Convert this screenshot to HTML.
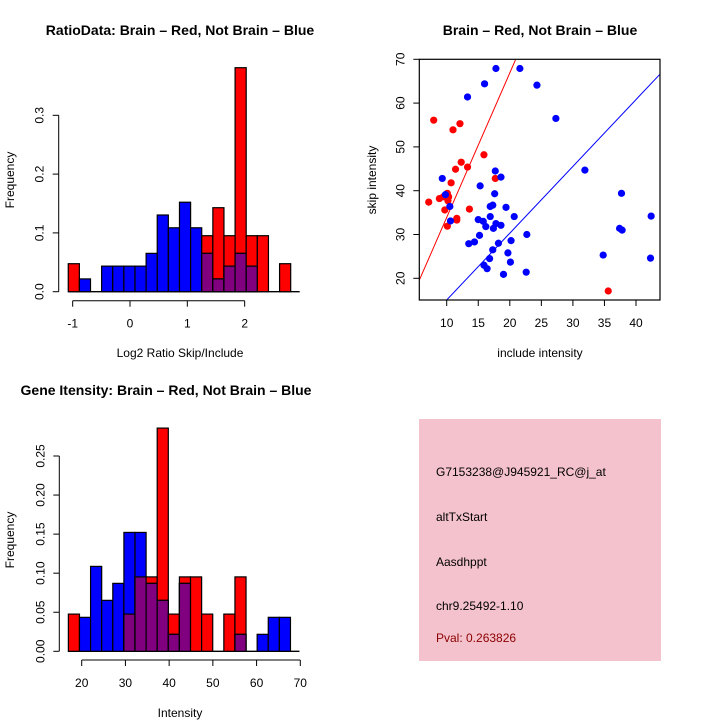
<!DOCTYPE html>
<html><head><meta charset="utf-8"><style>
html,body{margin:0;padding:0;background:#fff;}
svg{display:block;font-family:"Liberation Sans",sans-serif;}
</style></head><body>
<svg id="chart" width="720" height="720" viewBox="0 0 720 720" xmlns="http://www.w3.org/2000/svg">
<rect width="720" height="720" fill="#fff"/>
<g id="p1"></g>
<g id="p2"></g>
<g id="p3"></g>
<g id="p4">
<rect x="419" y="419" width="242" height="242" fill="#f4c2cc"/>
<text x="436" y="476" font-size="12" fill="#000">G7153238@J945921_RC@j_at</text>
<text x="436" y="521" font-size="12" fill="#000">altTxStart</text>
<text x="436" y="566" font-size="12" fill="#000">Aasdhppt</text>
<text x="436" y="610" font-size="12" fill="#000">chr9.25492-1.10</text>
<text x="436" y="642" font-size="12" fill="#8b0000">Pval: 0.263826</text>
</g>
</svg>
<script>
// ---- Histogram 1 data (ratio) ----
const ratioBinStart = -1.077;
const ratioBinWidth = 0.194;
const ratioRed  = [1/21,0,0,0,0,0,0,0,0,0,0,0,2/21,3/21,2/21,8/21,2/21,2/21,0,1/21];
const ratioBlue = [0,1/46,0,2/46,2/46,2/46,2/46,3/46,6/46,5/46,7/46,5/46,3/46,1/46,2/46,3/46,2/46,0,0,0];
const ratioXTicks = [-1,0,1,2];
const ratioYTicks = [0,0.1,0.2,0.3];
const ratioYLabels = ["0.0","0.1","0.2","0.3"];
// ---- Histogram 2 data (gene intensity) ----
const intBinStart = 16.95;
const intBinWidth = 2.54;
const intRed  = [1/21,0,0,0,0,1/21,2/21,2/21,6/21,1/21,2/21,2/21,1/21,0,1/21,2/21,0,0,0,0];
const intBlue = [0,2/46,5/46,3/46,4/46,7/46,7/46,4/46,3/46,1/46,4/46,0,0,0,0,1/46,0,1/46,2/46,2/46];
const intXTicks = [20,30,40,50,60,70];
const intYTicks = [0,0.05,0.10,0.15,0.20,0.25];
const intYLabels = ["0.00","0.05","0.10","0.15","0.20","0.25"];
// ---- Scatter data ----
const redInclude = [7.94,7.15,8.84,9.47,10.1,10.3,10.2,9.7,10.1,11.6,11.6,10.7,11.4,12.3,13.3,11.0,12.1,15.9,17.7,13.6,35.6];
const redSkip    = [56.1,37.4,38.2,38.6,39.4,38.6,37.7,35.6,31.9,33.7,33.3,41.8,44.9,46.5,45.4,53.9,55.3,48.2,42.8,35.8,17.1];
const blueInclude = [17.8,21.6,16.0,24.3,13.3,27.3,9.3,9.8,10.5,10.6,15.3,17.7,18.6,17.6,16.9,17.3,16.9,15.0,15.8,16.2,17.4,17.8,18.6,19.4,20.7,15.2,13.5,14.4,18.2,20.2,22.7,17.3,16.8,19.7,20.1,15.9,16.4,19.0,22.6,31.9,37.7,37.4,37.8,34.8,42.4,42.3];
const blueSkip    = [67.9,67.9,64.4,64.1,61.4,56.5,42.8,39.1,36.4,33.1,41.1,44.5,43.1,39.3,36.4,36.7,34.1,33.4,33.0,31.8,31.4,32.5,32.1,36.2,34.1,29.8,27.9,28.3,28.0,28.6,30.0,26.5,24.5,25.8,23.7,23.0,22.2,20.9,21.4,44.7,39.4,31.4,31.0,25.3,34.2,24.6];
const fitIntercept = [0.9, -0.2];   // red, blue
const fitSlope = [3.3, 1.525];
const scXTicks = [10,15,20,25,30,35,40];
const scYTicks = [20,30,40,50,60,70];

const NS="http://www.w3.org/2000/svg";
function mk(parent,tag,attrs,name,txt){
  const e=document.createElementNS(NS,tag);
  for(const k in attrs) e.setAttribute(k,attrs[k]);
  
  
  if(txt!==undefined) e.textContent=txt;
  parent.appendChild(e); return e;
}

function hist(g,o){
  const sx=v=>o.x0+(v-o.xv0)*o.xs, sy=v=>o.y0-v*o.ys;
  const n=o.red.length;
  const barsEnd=sx(o.binStart+n*o.binW);
  mk(g,'line',{x1:sx(o.binStart),x2:barsEnd+9,y1:o.y0,y2:o.y0,stroke:'#000','stroke-width':1.3},'baseline');
  for(let i=0;i<n;i++){
    const xa=sx(o.binStart+i*o.binW), xb=sx(o.binStart+(i+1)*o.binW);
    const r=o.red[i], b=o.blue[i];
    if(r>0) mk(g,'rect',{x:xa,y:sy(r),width:xb-xa,height:r*o.ys,fill:'#f00',stroke:'#000','stroke-width':1.2},'red-bar');
    if(b>0) mk(g,'rect',{x:xa,y:sy(b),width:xb-xa,height:b*o.ys,fill:'#00f',stroke:'#000','stroke-width':1.2},'blue-bar');
    if(r>0&&b>0){const m=Math.min(r,b);
      mk(g,'rect',{x:xa,y:sy(m),width:xb-xa,height:m*o.ys,fill:'#800080',stroke:'#000','stroke-width':1.2},'overlap-bar');}
  }
  // y axis
  const yt=o.yTicks;
  mk(g,'line',{x1:o.ax,x2:o.ax,y1:sy(yt[0]),y2:sy(yt[yt.length-1]),stroke:'#000','stroke-width':1},'y-axis-line');
  yt.forEach((v,i)=>{
    mk(g,'line',{x1:o.ax-6,x2:o.ax,y1:sy(v),y2:sy(v),stroke:'#000','stroke-width':1},'y-tick');
    mk(g,'text',{x:0,y:0,transform:`translate(${o.ax-15},${sy(v)}) rotate(-90)`,'text-anchor':'middle','font-size':12},'y-tick-label',o.yLabels[i]);
  });
  const xt=o.xTicks;
  mk(g,'line',{x1:sx(xt[0]),x2:sx(xt[xt.length-1]),y1:o.axY,y2:o.axY,stroke:'#000','stroke-width':1},'x-axis-line');
  xt.forEach(v=>{
    mk(g,'line',{x1:sx(v),x2:sx(v),y1:o.axY,y2:o.axY+6,stroke:'#000','stroke-width':1},'x-tick');
    mk(g,'text',{x:sx(v),y:o.axY+27,'text-anchor':'middle','font-size':12},'x-tick-label',String(v));
  });
  mk(g,'text',{x:o.titleX,y:o.titleY,'text-anchor':'middle','font-size':14,'font-weight':'bold'},'chart-title',o.title);
  mk(g,'text',{x:o.xlabX,y:o.xlabY,'text-anchor':'middle','font-size':12},'x-axis-title',o.xlab);
  mk(g,'text',{x:0,y:0,transform:`translate(${o.ylabX},${o.ylabY}) rotate(-90)`,'text-anchor':'middle','font-size':12},'y-axis-title','Frequency');
}

hist(document.getElementById('p1'),{
  red:ratioRed,blue:ratioBlue,binStart:ratioBinStart,binW:ratioBinWidth,
  x0:130,xv0:0,xs:57.33,y0:291.7,ys:588,ax:58.7,axY:300.7,
  xTicks:ratioXTicks,yTicks:ratioYTicks,yLabels:ratioYLabels,
  title:'RatioData: Brain \u2013 Red, Not Brain \u2013 Blue',titleX:180,titleY:35,
  xlab:'Log2 Ratio Skip/Include',xlabX:180,xlabY:357,ylabX:14,ylabY:180
});
hist(document.getElementById('p3'),{
  red:intRed,blue:intBlue,binStart:intBinStart,binW:intBinWidth,
  x0:81.7,xv0:20,xs:4.372,y0:651.3,ys:781.2,ax:59.3,axY:660,
  xTicks:intXTicks,yTicks:intYTicks,yLabels:intYLabels,
  title:'Gene Itensity: Brain \u2013 Red, Not Brain \u2013 Blue',titleX:166,titleY:395,
  xlab:'Intensity',xlabX:180,xlabY:717,ylabX:14,ylabY:540
});

// scatter
(function(){
  const g=document.getElementById('p2');
  const L=419.3,R=660,T=59.3,B=300;
  const sx=v=>446.7+(v-10)*6.31, sy=v=>278.3-(v-20)*4.38;
  const cp=mk(g,'clipPath',{id:'scclip'},'plot-clip');
  mk(cp,'rect',{x:L,y:T,width:R-L,height:B-T},'clip-rect');
  const cols=['#f00','#00f'];
  const xmin=(L-446.7)/6.31+10, xmax=(R-446.7)/6.31+10;
  for(let k=0;k<2;k++){
    mk(g,'line',{x1:sx(xmin),y1:sy(fitIntercept[k]+fitSlope[k]*xmin),x2:sx(xmax),y2:sy(fitIntercept[k]+fitSlope[k]*xmax),stroke:cols[k],'stroke-width':1,'clip-path':'url(#scclip)'},k?'blue-fit-line':'red-fit-line');
  }
  redInclude.forEach((v,i)=>mk(g,'circle',{cx:sx(v),cy:sy(redSkip[i]),r:3.6,fill:'#f00'},'red-point'));
  blueInclude.forEach((v,i)=>mk(g,'circle',{cx:sx(v),cy:sy(blueSkip[i]),r:3.6,fill:'#00f'},'blue-point'));
  mk(g,'rect',{x:L,y:T,width:R-L,height:B-T,fill:'none',stroke:'#000','stroke-width':1.2},'plot-frame');
  scXTicks.forEach(v=>{
    mk(g,'line',{x1:sx(v),x2:sx(v),y1:B,y2:B+6,stroke:'#000'},'x-tick');
    mk(g,'text',{x:sx(v),y:B+27,'text-anchor':'middle','font-size':12},'x-tick-label',String(v));
  });
  scYTicks.forEach(v=>{
    mk(g,'line',{x1:L-6,x2:L,y1:sy(v),y2:sy(v),stroke:'#000'},'y-tick');
    mk(g,'text',{x:0,y:0,transform:`translate(${L-15},${sy(v)}) rotate(-90)`,'text-anchor':'middle','font-size':12},'y-tick-label',String(v));
  });
  mk(g,'text',{x:540,y:35,'text-anchor':'middle','font-size':14,'font-weight':'bold'},'chart-title','Brain \u2013 Red, Not Brain \u2013 Blue');
  mk(g,'text',{x:540,y:357,'text-anchor':'middle','font-size':12},'x-axis-title','include intensity');
  mk(g,'text',{x:0,y:0,transform:'translate(376,180) rotate(-90)','text-anchor':'middle','font-size':12},'y-axis-title','skip intensity');
})();
</script>
</body></html>
